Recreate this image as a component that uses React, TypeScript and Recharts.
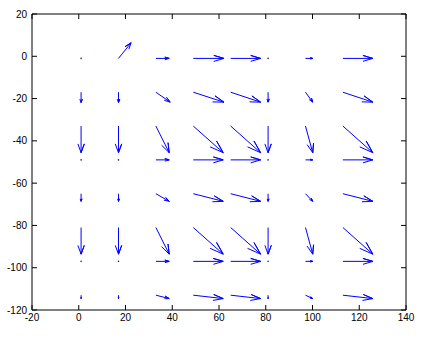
import React from 'react';
import { ScatterChart, Scatter, XAxis, YAxis } from 'recharts';

// grid of arrow tails
const X_GRID = [1, 17, 33, 49, 65, 81, 97, 113];
const Y_GRID = [-1, -17, -33, -49, -65, -81, -97, -113];

// u components, one row per entry of Y_GRID
const U = [
  [0, 5.4, 5.7, 13.1, 12.8, 0, 3.1, 12.8],
  [0, 0, 6.1, 13.1, 12.8, 0, 3.1, 12.8],
  [0, 0, 5.7, 12.8, 12.8, 0, 3.1, 12.8],
  [0, 0, 5.7, 12.8, 12.8, 0, 3.1, 12.8],
  [0, 0, 5.7, 12.8, 12.8, 0, 3.1, 12.8],
  [0, 0, 5.7, 12.8, 12.8, 0, 3.1, 12.8],
  [0, 0, 5.7, 12.8, 12.8, 0, 3.1, 12.8],
  [0, 0, 5.7, 12.8, 12.8, 0, 3.1, 12.8],
];

// v components
const V = [
  [0, 7.4, 0, 0, 0, 0, 0, 0],
  [-4.9, -4.9, -4.7, -4.7, -4.7, -4.7, -4.7, -4.7],
  [-12.6, -12.6, -12.6, -12.6, -12.6, -12.6, -12.6, -12.6],
  [0, 0, 0, 0, 0, 0, 0, 0],
  [-3.6, -3.6, -3.6, -3.6, -3.6, -3.6, -3.6, -3.6],
  [-12.6, -12.6, -12.6, -12.6, -12.6, -12.6, -12.6, -12.6],
  [0, 0, 0, 0, 0, 0, 0, 0],
  [-1.6, -1.6, -1.6, -1.6, -1.6, -1.6, -1.6, -1.6],
];

const X_TICKS = [-20, 0, 20, 40, 60, 80, 100, 120, 140];
const Y_TICKS = [-120, -100, -80, -60, -40, -20, 0, 20];

const BLUE = '#0000ff';
const HEAD = 0.33;
const SPREAD = 0.33;

// tail -> tip -> barb -> tip -> barb, like matlab's quiver
const arrows = Y_GRID.flatMap((y, i) =>
  X_GRID.map((x, j) => {
    const u = U[i][j];
    const v = V[i][j];
    if (u === 0 && v === 0) return [{ x, y, zero: true }];
    const tx = x + u;
    const ty = y + v;
    return [
      { x, y },
      { x: tx, y: ty },
      { x: tx - HEAD * (u + SPREAD * v), y: ty - HEAD * (v - SPREAD * u) },
      { x: tx, y: ty },
      { x: tx - HEAD * (u - SPREAD * v), y: ty - HEAD * (v + SPREAD * u) },
    ];
  })
);

const Point = (props: any) => {
  if (props.payload && props.payload.zero) {
    return <circle cx={props.cx} cy={props.cy} r={0.8} fill="#20206a" />;
  }
  return <g />;
};

const font = { fill: '#000', fontSize: 10, fontFamily: 'Liberation Sans, Arial, sans-serif' };

export default function App() {
  return (
    <div style={{ width: 426, height: 348, background: '#fff' }}>
      <style>{'body{margin:0}'}</style>
      <ScatterChart width={426} height={348} margin={{ top: 13, right: 19, bottom: 0, left: 0 }}>
        <XAxis
          type="number"
          dataKey="x"
          domain={[-20, 140]}
          ticks={X_TICKS}
          interval={0}
          allowDataOverflow
          height={38}
          tickSize={-5}
          tickMargin={9}
          axisLine={{ stroke: '#000' }}
          tickLine={{ stroke: '#000' }}
          tick={font}
        />
        <XAxis
          xAxisId="top"
          orientation="top"
          type="number"
          dataKey="x"
          domain={[-20, 140]}
          ticks={X_TICKS}
          interval={0}
          allowDataOverflow
          height={1}
          tickSize={-5}
          axisLine={{ stroke: '#000' }}
          tickLine={{ stroke: '#000' }}
          tick={() => <g />}
        />
        <YAxis
          type="number"
          dataKey="y"
          domain={[-120, 20]}
          ticks={Y_TICKS}
          interval={0}
          allowDataOverflow
          width={32}
          tickSize={-5}
          tickMargin={10}
          axisLine={{ stroke: '#000' }}
          tickLine={{ stroke: '#000' }}
          tick={font}
        />
        <YAxis
          yAxisId="right"
          orientation="right"
          type="number"
          dataKey="y"
          domain={[-120, 20]}
          ticks={Y_TICKS}
          interval={0}
          allowDataOverflow
          width={1}
          tickSize={-5}
          axisLine={{ stroke: '#000' }}
          tickLine={{ stroke: '#000' }}
          tick={() => <g />}
        />
        {arrows.map((pts, k) => (
          <Scatter
            key={k}
            data={pts}
            fill={BLUE}
            line={{ stroke: BLUE, strokeWidth: 1 }}
            lineType="joint"
            shape={Point}
            isAnimationActive={false}
          />
        ))}
      </ScatterChart>
    </div>
  );
}
